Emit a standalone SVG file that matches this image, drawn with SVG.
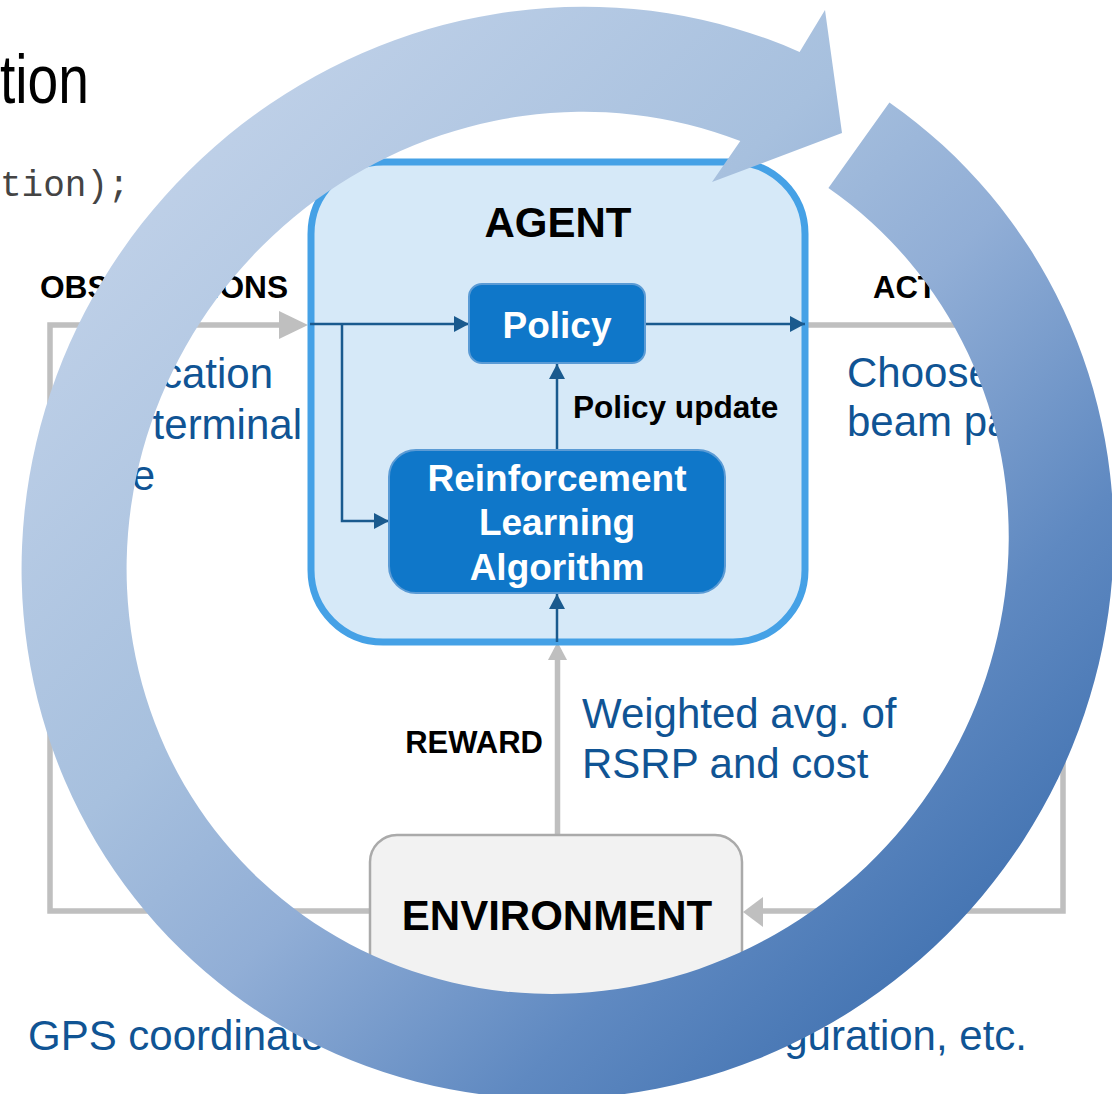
<svg xmlns="http://www.w3.org/2000/svg" width="1112" height="1094" viewBox="0 0 1112 1094">
  <style>
    .bold { font-family: "Liberation Sans", Arial, sans-serif; font-weight: bold; fill: #000; }
    .blue { font-family: "Liberation Sans", Arial, sans-serif; font-size: 42px; fill: #105494; }
    .white { font-family: "Liberation Sans", Arial, sans-serif; font-weight: bold; fill: #fff; font-size: 37px; text-anchor: middle; }
    .gray-line { fill: none; stroke: #bfbfbf; stroke-width: 5.5; stroke-linejoin: miter; }
    .gray-head { fill: #bfbfbf; }
    .dark-line { fill: none; stroke: #1a5a8e; stroke-width: 2.5; }
    .inner-box { fill: #0f77c9; stroke: #5b9bd5; stroke-width: 2; }
  </style>
  <defs>
    <marker id="dark-arrow" viewBox="0 0 15 16" refX="15" refY="8" markerWidth="15" markerHeight="16" markerUnits="userSpaceOnUse" orient="auto">
      <path d="M0,0 L15,8 L0,16 Z" fill="#1a5a8e"/>
    </marker>
    <linearGradient id="ring-grad" gradientUnits="userSpaceOnUse" x1="100" y1="100" x2="1000" y2="1000">
      <stop offset="0" stop-color="#c4d4ea"/>
      <stop offset="0.39" stop-color="#a7c0de"/>
      <stop offset="0.56" stop-color="#91aed6"/>
      <stop offset="0.78" stop-color="#5f89c1"/>
      <stop offset="0.95" stop-color="#4474b2"/>
      <stop offset="1" stop-color="#3f6fae"/>
    </linearGradient>
  </defs>

  <rect x="0" y="0" width="1112" height="1094" fill="#ffffff"/>

  <!-- background slide fragments -->
  <g id="background-text">
    <text x="0" y="103" font-family="'Liberation Sans', Arial, sans-serif" font-size="68" fill="#000" textLength="89" lengthAdjust="spacingAndGlyphs">tion</text>
    <text x="0" y="196" font-family="'Liberation Mono', 'Courier New', monospace" font-size="36" fill="#444">tion);</text>
  </g>

  <!-- connectors -->
  <g id="connectors">
    <polyline class="gray-line" points="370,911 50,911 50,325 281,325"/>
    <polygon class="gray-head" points="279,311 308,325 279,339"/>
    <polyline class="gray-line" points="806,325 1063,325 1063,911 761,911"/>
    <polygon class="gray-head" points="763,897 743,912 763,927"/>
    <line class="gray-line" x1="557.5" y1="835" x2="557.5" y2="659"/>
    <polygon class="gray-head" points="548,660 557.5,642 567,660"/>
  </g>

  <!-- agent -->
  <g id="node-agent">
    <rect x="311" y="162" width="494" height="480" rx="72" ry="72" fill="#d6e9f8" stroke="#45a1e6" stroke-width="7"/>
    <text class="bold" x="558" y="237" font-size="42" text-anchor="middle">AGENT</text>
  </g>

  <g id="agent-connectors">
    <path class="dark-line" d="M310,324 H469" marker-end="url(#dark-arrow)"/>
    <path class="dark-line" d="M342,324 V521 H389" marker-end="url(#dark-arrow)"/>
    <path class="dark-line" d="M645,324 H805" marker-end="url(#dark-arrow)"/>
    <path class="dark-line" d="M557,450 V364" marker-end="url(#dark-arrow)"/>
    <path class="dark-line" d="M557,642 V594" marker-end="url(#dark-arrow)"/>
  </g>

  <g id="node-policy">
    <rect class="inner-box" x="469" y="284" width="176" height="79" rx="13" ry="13"/>
    <text class="white" x="557" y="338">Policy</text>
  </g>

  <g id="node-rl">
    <rect class="inner-box" x="389" y="450" width="336" height="143" rx="27" ry="27"/>
    <text class="white" x="557" y="491">Reinforcement</text>
    <text class="white" x="557" y="535">Learning</text>
    <text class="white" x="557" y="580">Algorithm</text>
  </g>

  <g id="node-environment">
    <rect x="370" y="835" width="372" height="215" rx="27" ry="27" fill="#f2f2f2" stroke="#aaaaaa" stroke-width="2.5"/>
    <text class="bold" x="557" y="930" font-size="42" text-anchor="middle">ENVIRONMENT</text>
  </g>

  <!-- labels -->
  <g id="labels">
    <text class="bold" x="40" y="298" font-size="31" textLength="248" lengthAdjust="spacingAndGlyphs">OBSERVATIONS</text>
    <text class="bold" x="873" y="298" font-size="31">ACTIONS</text>
    <text class="bold" x="573" y="418" font-size="31.6">Policy update</text>
    <text class="bold" x="543" y="753" font-size="31" text-anchor="end">REWARD</text>

    <text class="blue" x="273" y="388" text-anchor="end">cation</text>
    <text class="blue" x="302" y="439" text-anchor="end">terminal</text>
    <text class="blue" x="155" y="490" text-anchor="end">e</text>

    <text class="blue" x="847" y="387">Choose</text>
    <text class="blue" x="847" y="436">beam pa</text>

    <text class="blue" x="582" y="728">Weighted avg. of</text>
    <text class="blue" x="582" y="778">RSRP and cost</text>

    <text class="blue" x="28" y="1050">GPS coordinate</text>
    <text class="blue" x="1027" y="1050" text-anchor="end">guration, etc.</text>
  </g>

  <!-- big circular arrow -->
  <g id="cycle-arrow">
    <path d="M799.6,51.9 A554,538 -45 1 0 889.4,102.4 L828.4,187.9 A449,433 -45 1 1 740.3,141.0 L712,182 L842,133 L825,10 Z" fill="url(#ring-grad)"/>
  </g>
</svg>
